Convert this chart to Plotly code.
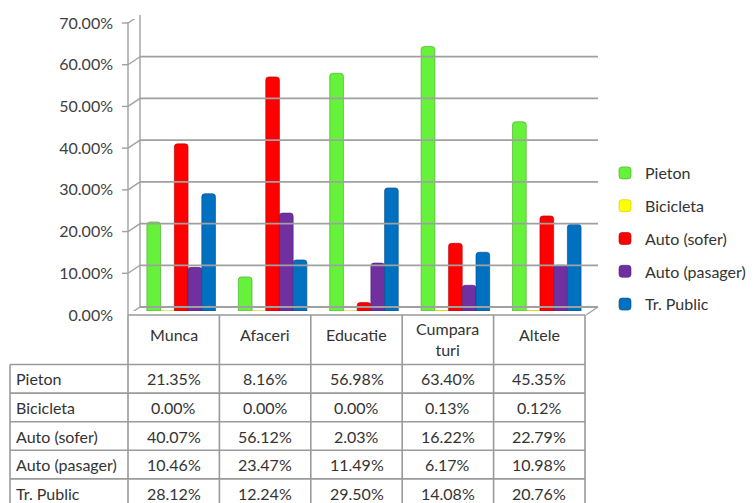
import plotly.graph_objects as go

# ---------------- data ----------------
categories = ["Munca", "Afaceri", "Educatie", "Cumparaturi", "Altele"]
category_labels = ["Munca", "Afaceri", "Educatie", "Cumpara<br>turi", "Altele"]
series_names = ["Pieton", "Bicicleta", "Auto (sofer)", "Auto (pasager)", "Tr. Public"]
pieton = [21.35, 8.16, 56.98, 63.40, 45.35]
bicicleta = [0.00, 0.00, 0.00, 0.13, 0.12]
auto_sofer = [40.07, 56.12, 2.03, 16.22, 22.79]
auto_pasager = [10.46, 23.47, 11.49, 6.17, 10.98]
tr_public = [28.12, 12.24, 29.50, 14.08, 20.76]
tick_values = [0, 10, 20, 30, 40, 50, 60, 70]
tick_labels = ["0.00%", "10.00%", "20.00%", "30.00%", "40.00%", "50.00%", "60.00%", "70.00%"]

series_values = [pieton, bicicleta, auto_sofer, auto_pasager, tr_public]
colors = ["#66F23A", "#FFFF00", "#FF0000", "#7030A0", "#0070C0"]
edge_colors = ["#3FA51F", "#C8C800", "#B00000", "#4A1F70", "#004C88"]

# ---------------- layout geometry (screen pixels; page has 8px body margin) ----------------
OFFX, OFFY = 8, 8
W, H = 754 - OFFX, 503 - OFFY
plot_l, plot_r, plot_t, plot_b = 128, 598, 19, 311   # screen coords
ml, mt = plot_l - OFFX, plot_t - OFFY
mr, mb = W - (plot_r - OFFX), H - (plot_b - OFFY)
pw, ph = W - ml - mr, H - mt - mb
col_w = 91.4
FONT = "Lato, 'Open Sans', sans-serif"
TXT = "#333333"
GRID = "#A0A0A0"
TBL = "#9A9A9A"


def px(xs):
    return (xs - OFFX - ml) / pw


def py(ys):
    return 1 - (ys - OFFY - mt) / ph


fig = go.Figure()
for name, vals, c, ec in zip(series_names, series_values, colors, edge_colors):
    fig.add_trace(go.Bar(
        x=categories, y=vals, name=name, legendgroup=name,
        marker=dict(color=c, line=dict(color=ec, width=0.6), cornerradius=3),
    ))

shapes = []
# gridlines on back wall with perspective diagonals and front ticks
for v in tick_values:
    shapes.append(dict(type="line", xref="paper", yref="y", ysizemode="pixel", yanchor=v,
                       x0=px(140), x1=px(598), y0=4, y1=4, line=dict(color=GRID, width=1.8)))
    shapes.append(dict(type="line", xref="paper", yref="y", ysizemode="pixel", yanchor=v,
                       x0=px(128), x1=px(140), y0=-4, y1=4, line=dict(color=GRID, width=1.4)))
    shapes.append(dict(type="line", xref="paper", yref="y", ysizemode="pixel", yanchor=v,
                       x0=px(122), x1=px(128), y0=-4, y1=-4, line=dict(color=GRID, width=1.4)))
# front axis line and back wall edge
shapes.append(dict(type="line", xref="paper", yref="paper", x0=px(128), x1=px(128),
                   y0=py(315), y1=py(23), line=dict(color=GRID, width=1.4)))
shapes.append(dict(type="line", xref="paper", yref="paper", x0=px(140), x1=px(140),
                   y0=py(307), y1=py(15), line=dict(color=GRID, width=1.4)))
# floor right edge
shapes.append(dict(type="line", xref="paper", yref="paper", x0=px(598), x1=px(586),
                   y0=py(307), y1=py(315), line=dict(color=GRID, width=1.4)))

# ---------------- data table ----------------
tbl_left = 10
col_x = [plot_l + i * col_w for i in range(len(categories) + 1)]
header_top, header_bot = 315, 364.5
row_h = 28.6
row_y = [header_bot + i * row_h for i in range(len(series_names) + 1)]

for x in col_x:
    shapes.append(dict(type="line", xref="paper", yref="paper", x0=px(x), x1=px(x),
                       y0=py(header_top), y1=py(row_y[-1]), line=dict(color=TBL, width=1.6)))
shapes.append(dict(type="line", xref="paper", yref="paper", x0=px(tbl_left), x1=px(tbl_left),
                   y0=py(header_bot), y1=py(row_y[-1]), line=dict(color=TBL, width=1.6)))
shapes.append(dict(type="line", xref="paper", yref="paper", x0=px(plot_l), x1=px(col_x[-1]),
                   y0=py(header_top), y1=py(header_top), line=dict(color=TBL, width=1.6)))
for y in row_y:
    shapes.append(dict(type="line", xref="paper", yref="paper", x0=px(tbl_left), x1=px(col_x[-1]),
                       y0=py(y), y1=py(y), line=dict(color=TBL, width=1.6)))

annotations = []
for j, lab in enumerate(category_labels):
    cx = (col_x[j] + col_x[j + 1]) / 2
    annotations.append(dict(text=lab, x=px(cx), y=py(339 if "<br>" in lab else 334),
                            xref="paper", yref="paper", showarrow=False,
                            xanchor="center", yanchor="middle",
                            font=dict(family=FONT, size=16, color=TXT)))
for i, (name, vals) in enumerate(zip(series_names, series_values)):
    cy = (row_y[i] + row_y[i + 1]) / 2
    annotations.append(dict(text=name, x=px(tbl_left + 4), y=py(cy), xref="paper", yref="paper",
                            showarrow=False, xanchor="left", yanchor="middle",
                            font=dict(family=FONT, size=16, color=TXT)))
    for j, v in enumerate(vals):
        cx = (col_x[j] + col_x[j + 1]) / 2
        annotations.append(dict(text=f"{v:.2f}%", x=px(cx), y=py(cy), xref="paper", yref="paper",
                                showarrow=False, xanchor="center", yanchor="middle",
                                font=dict(family=FONT, size=16, color=TXT)))

x0_range = -0.5 - 7.5 / col_w
fig.update_layout(
    width=W, height=H,
    margin=dict(l=ml, r=mr, t=mt, b=mb, autoexpand=False),
    paper_bgcolor="white", plot_bgcolor="rgba(0,0,0,0)",
    barmode="group", bargap=0.25, bargroupgap=0.0,
    font=dict(family=FONT, size=16, color=TXT),
    xaxis=dict(type="category", range=[x0_range, x0_range + pw / col_w],
               showticklabels=False, showgrid=False, zeroline=False, showline=False, ticks=""),
    yaxis=dict(range=[0, 70], tickvals=tick_values, ticktext=tick_labels,
               showgrid=False, zeroline=False, showline=False, ticks="",
               ticklabelstandoff=14, ticklabelshift=4,
               tickfont=dict(family=FONT, size=16, color="#404040")),
    legend=dict(x=(645 - 40 - OFFX) / W, xref="container", xanchor="left",
                y=1 - (156 - OFFY) / H, yref="container", yanchor="top",
                traceorder="grouped", tracegroupgap=9,
                font=dict(family=FONT, size=16, color=TXT),
                bgcolor="rgba(0,0,0,0)"),
    shapes=shapes, annotations=annotations,
)

fig.write_html("out.html")
